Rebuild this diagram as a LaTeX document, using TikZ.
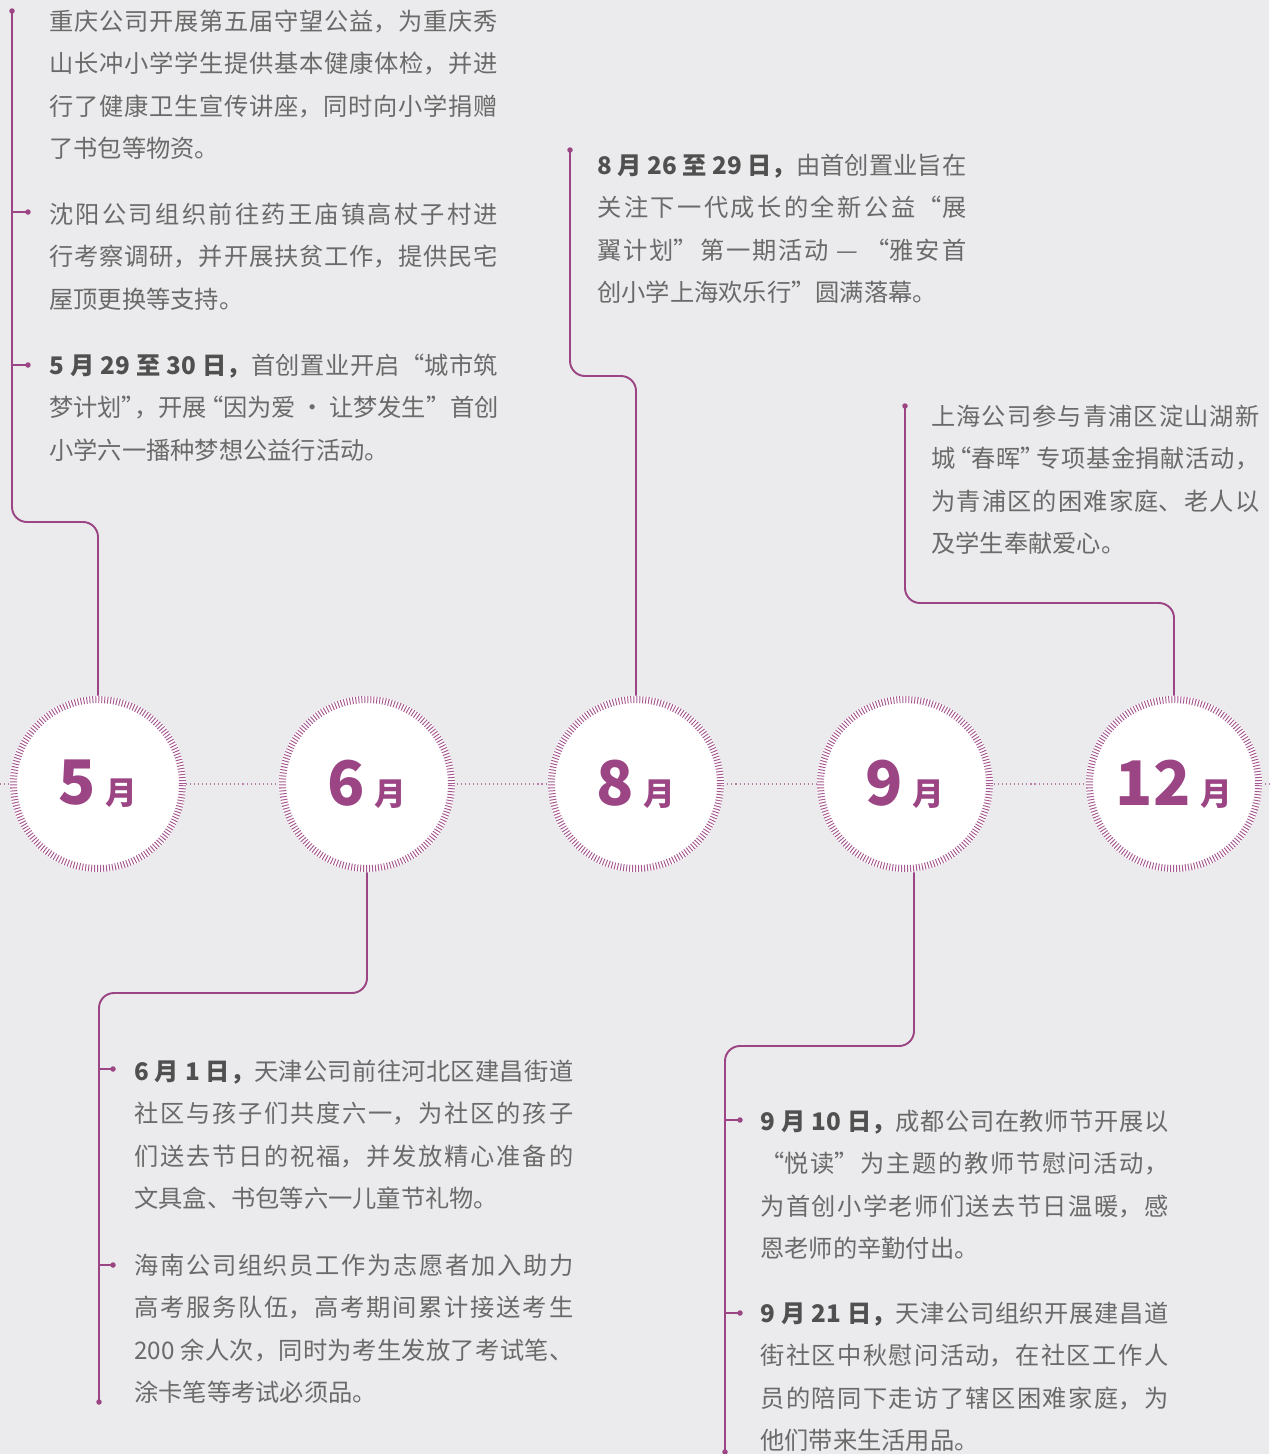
\documentclass[tikz,border=0pt]{standalone}
\usepackage{fontspec}
\setmainfont{Noto Sans CJK SC}
\usepackage{xcolor}
\usepackage{tikz}
\usetikzlibrary{positioning, calc}
\definecolor{bgc}{HTML}{EBEBED}
\definecolor{plum}{HTML}{9B4584}
\definecolor{txt}{HTML}{6A6A6A}
\definecolor{txtb}{HTML}{505050}
\XeTeXlinebreaklocale "zh"
\XeTeXlinebreakskip=0pt plus 1.5pt minus 0.5pt
\hbadness=10000

\begin{document}
\begin{tikzpicture}[x=0.02cm, y=-0.02cm,
    month/.style={circle, fill=white, inner sep=0pt, minimum size=3.52cm, text=plum, font=\bfseries},
    ring/.style={draw=plum!90, line width=0.14cm, dash pattern=on 0.55pt off 1.15pt},
    note/.style={anchor=base west, align=justify, inner sep=0pt, text=txt, font=\fontsize{13.8}{24.2}\selectfont},
    line/.style={draw=plum, line width=1.1pt, rounded corners=0.3cm},
    dot/.style={circle, fill=plum, inner sep=0pt, minimum size=0.11cm},
    axis/.style={draw=plum!70, line width=0.6pt, dash pattern=on 0.6pt off 1.7pt}
]
    \fill[bgc] (0,0) rectangle (1269,1454);
    \useasboundingbox (0,0) rectangle (1269,1454);

    \coordinate (axl) at (0,784);
    \coordinate (axr) at (1269,784);
    \path [axis] (axl) -- (axr);

    \foreach \m/\x in {5/98, 6/367, 8/636, 9/905, 12/1174} {
        \node [month] (m\m) at (\x,784) {{\fontsize{35}{35}\selectfont\m}\hspace{0.2cm}{\fontsize{18}{18}\selectfont 月}};
        \draw [ring] (m\m.center) circle[radius=1.69cm];
    }

    \node [dot] (d5) at (12,11) {};
    \node [dot] (d5b) at (28,212) {};
    \node [dot] (d5c) at (28,365) {};
    \node [dot] (d8) at (570,150) {};
    \node [dot] (d12) at (905,406) {};
    \node [dot] (d6) at (99,1402) {};
    \node [dot] (d6b) at (113,1069) {};
    \node [dot] (d6c) at (113,1265) {};
    \node [dot] (d9) at (725,1452) {};
    \node [dot] (d9b) at (740,1120) {};
    \node [dot] (d9c) at (740,1313) {};

    \path [line] (m5.north) -- (98,522) -- (12,522) -- (d5.center);
    \path [line] (d5b.center) -- (d5b -| d5);
    \path [line] (d5c.center) -- (d5c -| d5);
    \path [line] (m8.north) -- (636,376) -- (570,376) -- (d8.center);
    \path [line] (m12.north) -- (1174,603) -- (905,603) -- (d12.center);
    \path [line] (m6.south) -- (367,993) -- (99,993) -- (d6.center);
    \path [line] (d6b.center) -- (d6b -| d6);
    \path [line] (d6c.center) -- (d6c -| d6);
    \path [line] ([xshift=0.18cm]m9.south) -- (914,1046) -- (725,1046) -- (d9.center);
    \path [line] (d9b.center) -- (d9b -| d9);
    \path [line] (d9c.center) -- (d9c -| d9);

    \node [note, text width=8.98cm] (may1) at (49,30) {重庆公司开展第五届守望公益，为重庆秀\linebreak 山长冲小学学生提供基本健康体检，并进\linebreak 行了健康卫生宣传讲座，同时向小学捐赠\linebreak 了书包等物资。};
    \node [note, text width=8.98cm] (may2) at (49,223) {沈阳公司组织前往药王庙镇高杖子村进\linebreak 行考察调研，并开展扶贫工作，提供民宅\linebreak 屋顶更换等支持。};
    \node [note, text width=8.98cm] (may3) at (49,374) {{\color{txtb}\bfseries 5 月 29 至 30 日，}首创置业开启“城市筑\linebreak 梦计划”\kern-0.45em，开展\kern-0.3em“因为爱 • 让梦发生”首创\linebreak 小学六一播种梦想公益行活动。};
    \node [note, text width=7.38cm] (aug1) at (597,174) {{\color{txtb}\bfseries 8 月 26 至 29 日，}由首创置业旨在\linebreak 关注下一代成长的全新公益“展\linebreak 翼计划”第一期活动 — “雅安首\linebreak 创小学上海欢乐行”圆满落幕。};
    \node [note, text width=6.56cm] (dec1) at (931,425) {上海公司参与青浦区淀山湖新\linebreak 城\kern-0.35em“春晖”\kern-0.35em专项基金捐献活动，\linebreak 为青浦区的困难家庭、老人以\linebreak 及学生奉献爱心。};
    \node [note, text width=8.78cm] (jun1) at (134,1080) {{\color{txtb}\bfseries 6 月 1 日，}天津公司前往河北区建昌街道\linebreak 社区与孩子们共度六一，为社区的孩子\linebreak 们送去节日的祝福，并发放精心准备的\linebreak 文具盒、书包等六一儿童节礼物。};
    \node [note, text width=8.78cm] (jun2) at (134,1274) {海南公司组织员工作为志愿者加入助力\linebreak 高考服务队伍，高考期间累计接送考生\linebreak 200 余人次，同时为考生发放了考试笔、\linebreak 涂卡笔等考试必须品。};
    \node [note, text width=8.16cm] (sep1) at (760,1130) {{\color{txtb}\bfseries 9 月 10 日，}成都公司在教师节开展以\linebreak “悦读”为主题的教师节慰问活动，\linebreak 为首创小学老师们送去节日温暖，感\linebreak 恩老师的辛勤付出。};
    \node [note, text width=8.16cm] (sep2) at (760,1322) {{\color{txtb}\bfseries 9 月 21 日，}天津公司组织开展建昌道\linebreak 街社区中秋慰问活动，在社区工作人\linebreak 员的陪同下走访了辖区困难家庭，为\linebreak 他们带来生活用品。};
\end{tikzpicture}
\end{document}
